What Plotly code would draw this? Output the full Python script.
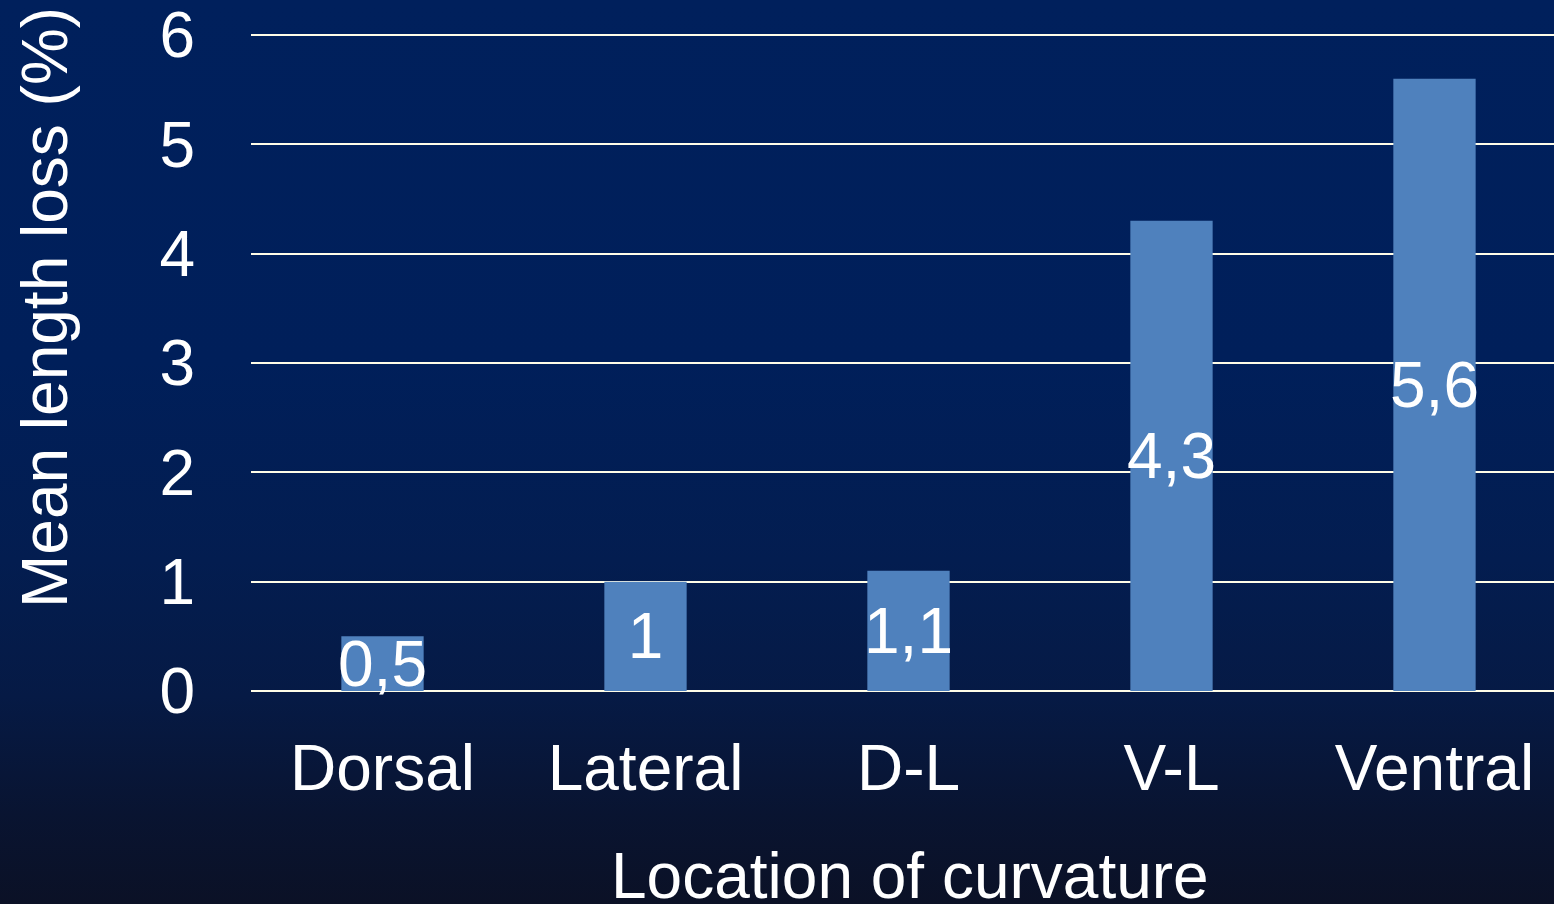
import base64
import plotly.graph_objects as go

categories = ["Dorsal", "Lateral", "D-L", "V-L", "Ventral"]
values = [0.5, 1.0, 1.1, 4.3, 5.6]
y_ticks = [0, 1, 2, 3, 4, 5, 6]
x_title = "Location of curvature"
y_title = "Mean length loss (%)"

labels = [f"{v:g}".replace(".", ",") for v in values]

W, H = 1554, 904
ML, MR, MT, MB = 251, 0, 30, 213
PW, PH = W - ML - MR, H - MT - MB
Y_TOP = 6 + 5 / (656 / 6)
FONT = "Arial, Liberation Sans, Helvetica, sans-serif"
GRID = "#FFFDE8"

svg = (
    '<svg xmlns="http://www.w3.org/2000/svg" width="100" height="100" preserveAspectRatio="none">'
    '<defs><linearGradient id="g" x1="0" y1="0" x2="0" y2="1">'
    '<stop offset="0" stop-color="#00205C"/>'
    '<stop offset="0.40" stop-color="#001F5A"/>'
    '<stop offset="0.62" stop-color="#031D50"/>'
    '<stop offset="0.77" stop-color="#061A45"/>'
    '<stop offset="0.90" stop-color="#091431"/>'
    '<stop offset="1" stop-color="#0B1126"/>'
    '</linearGradient></defs>'
    '<rect x="0" y="0" width="100" height="100" fill="url(#g)"/></svg>'
)
svg_uri = "data:image/svg+xml;base64," + base64.b64encode(svg.encode()).decode()

fig = go.Figure()
fig.add_trace(go.Bar(
    x=categories,
    y=values,
    text=labels,
    textposition="inside",
    insidetextanchor="middle",
    textangle=0,
    textfont=dict(family=FONT, size=64, color="white"),
    marker=dict(color="#4F81BD", line=dict(width=0)),
    width=0.313,
    cliponaxis=False,
    hoverinfo="skip",
))

fig.update_layout(
    width=W, height=H,
    margin=dict(l=ML, r=MR, t=MT, b=MB, pad=0),
    paper_bgcolor="#021A4A",
    plot_bgcolor="rgba(0,0,0,0)",
    showlegend=False,
    uniformtext=dict(minsize=64, mode="show"),
    font=dict(family=FONT, color="white", size=64),
    images=[dict(
        source=svg_uri, xref="paper", yref="paper",
        x=-ML / PW, y=1 + MT / PH,
        sizex=W / PW, sizey=H / PH,
        xanchor="left", yanchor="top",
        sizing="stretch", layer="below",
    )],
    xaxis=dict(
        range=[-0.5, 4.4544],
        showgrid=False, showline=False, zeroline=False,
        ticks="outside", ticklen=21, tickcolor="rgba(0,0,0,0)",
        tickfont=dict(family=FONT, size=64, color="white"),
        ticklabeloverflow="allow",
        fixedrange=True,
    ),
    yaxis=dict(
        range=[0, Y_TOP],
        tickvals=y_ticks,
        showgrid=True, gridcolor=GRID, gridwidth=2,
        zeroline=True, zerolinecolor=GRID, zerolinewidth=2,
        showline=False,
        ticks="outside", ticklen=42, tickcolor="rgba(0,0,0,0)",
        tickfont=dict(family=FONT, size=64, color="white"),
        ticklabeloverflow="allow",
        fixedrange=True,
    ),
    annotations=[
        dict(text=x_title, xref="paper", yref="paper",
             x=(910 - ML) / PW, y=-(876 - (H - MB)) / PH,
             xanchor="center", yanchor="middle", showarrow=False,
             font=dict(family=FONT, size=64, color="white")),
        dict(text=y_title, xref="paper", yref="paper",
             x=-(ML - 45) / PW, y=((H - MB) - 308) / PH,
             xanchor="center", yanchor="middle", showarrow=False,
             textangle=-90,
             font=dict(family=FONT, size=64, color="white")),
    ],
)

fig.write_html("out.html")
